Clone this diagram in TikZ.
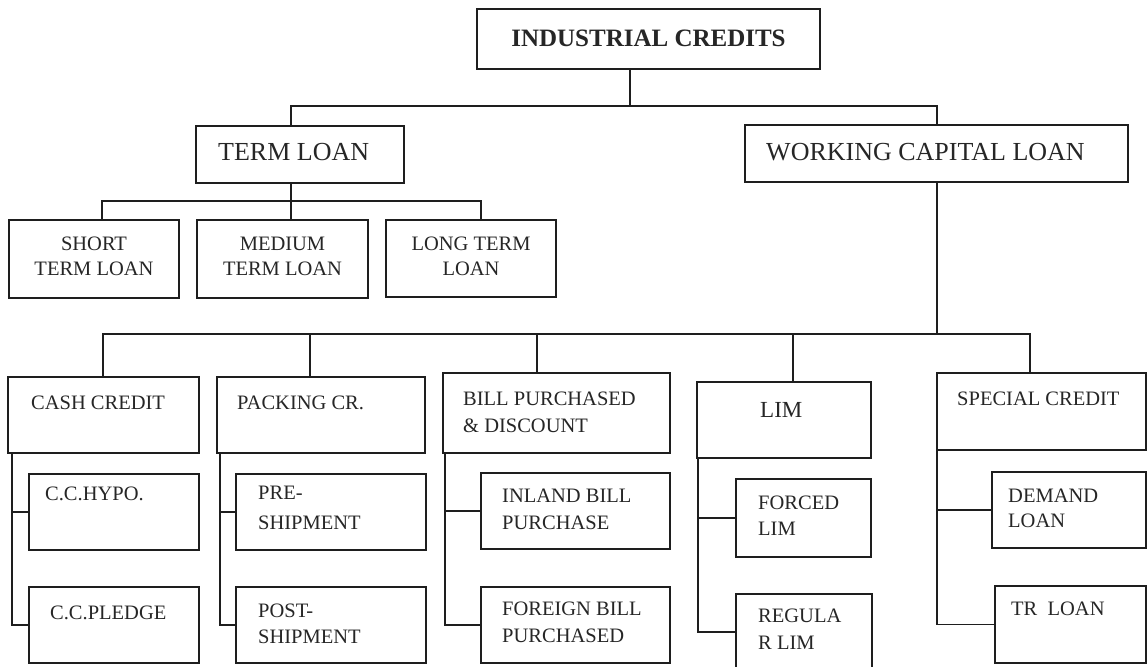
\documentclass[tikz,border=0pt]{standalone}
\usepackage{fontspec}
\setmainfont{Liberation Serif}
\usetikzlibrary{calc}
\definecolor{ln}{HTML}{1E1E1E}
\definecolor{tx}{HTML}{262626}
% multi-line label whose baseline is the first line
\newcommand\twoline[2][l]{\begin{tabular}[t]{@{}#1@{}}#2\end{tabular}}
\begin{document}
\begin{tikzpicture}[x=1pt,y=-1pt,
  box/.style={draw=ln,line width=1.8pt,inner sep=0pt,outer sep=0pt,anchor=north west},
  wire/.style={draw=ln,line width=1.8pt,line join=miter},
  big/.style={inner sep=0pt,text=tx,anchor=base west,font=\fontsize{26}{30}\selectfont},
  mid/.style={inner sep=0pt,text=tx,anchor=base,font=\fontsize{20.5}{25}\selectfont},
  low/.style={inner sep=0pt,text=tx,anchor=base west,font=\fontsize{20.5}{27}\selectfont}]
\useasboundingbox[fill=white] (0,0) rectangle (1147,666);

% ---- level 0 and 1 ----
\node[box,minimum width=343pt,minimum height=60pt] (ic) at (477,9) {};
\node[box,minimum width=208pt,minimum height=57pt] (tl) at (196,126) {};
\node[box,minimum width=383pt,minimum height=57pt] (wcl) at (745,125) {};
\node[inner sep=0pt,text=tx,anchor=base,font=\fontsize{25}{30}\selectfont\bfseries]
  (ic-t) at ($(ic.north)+(0,38)$) {INDUSTRIAL CREDITS};
\node[big] (tl-t) at ($(tl.north west)+(22,34)$) {TERM LOAN};
\node[big] (wcl-t) at ($(wcl.north west)+(21,35)$) {WORKING CAPITAL LOAN};

% ---- term loan branches ----
\node[box,minimum width=170pt,minimum height=78pt] (short) at (9,220) {};
\node[box,minimum width=171pt,minimum height=78pt] (medium) at (197,220) {};
\node[box,minimum width=170pt,minimum height=77pt] (long) at (386,220) {};
\node[mid] (short-t) at ($(short.north)+(0,30)$) {\twoline[c]{SHORT\\TERM LOAN}};
\node[mid] (medium-t) at ($(medium.north)+(0,30)$) {\twoline[c]{MEDIUM\\TERM LOAN}};
\node[mid] (long-t) at ($(long.north)+(0,30)$) {\twoline[c]{LONG TERM\\LOAN}};

% ---- working capital branches ----
\node[box,minimum width=191pt,minimum height=76pt] (cash) at (8,377) {};
\node[box,minimum width=208pt,minimum height=76pt] (packing) at (217,377) {};
\node[box,minimum width=227pt,minimum height=80pt] (bill) at (443,373) {};
\node[box,minimum width=174pt,minimum height=76pt] (lim) at (697,382) {};
\node[box,minimum width=209pt,minimum height=77pt] (special) at (937,373) {};

\node[low] (cash-t) at ($(cash.north west)+(23,32)$) {CASH CREDIT};
\node[low] (packing-t) at ($(packing.north west)+(20,32)$) {PACKING CR.};
\node[low] (bill-t) at ($(bill.north west)+(20,32)$) {\twoline{BILL PURCHASED\\\& DISCOUNT}};
\node[low,font=\fontsize{23}{27}\selectfont] (lim-t) at ($(lim.north west)+(63,35)$) {LIM};
\node[low] (special-t) at ($(special.north west)+(20,32)$) {SPECIAL CREDIT};

% ---- third level ----
\node[box,minimum width=170pt,minimum height=76pt] (hypo) at (29,474) {};
\node[box,minimum width=170pt,minimum height=76pt] (pledge) at (29,587) {};
\node[box,minimum width=190pt,minimum height=76pt] (pre) at (236,474) {};
\node[box,minimum width=190pt,minimum height=76pt] (post) at (236,587) {};
\node[box,minimum width=189pt,minimum height=76pt] (inland) at (481,473) {};
\node[box,minimum width=189pt,minimum height=76pt] (foreign) at (481,587) {};
\node[box,minimum width=135pt,minimum height=78pt] (forced) at (736,479) {};
\node[box,minimum width=136pt,minimum height=76pt] (regular) at (736,594) {};
\node[box,minimum width=154pt,minimum height=76pt] (demand) at (992,472) {};
\node[box,minimum width=151pt,minimum height=77pt] (trloan) at (995,586) {};

\node[low] (hypo-t) at ($(hypo.north west)+(16,26)$) {C.C.HYPO.};
\node[low] (pledge-t) at ($(pledge.north west)+(21,32)$) {C.C.PLEDGE};
\node[low] (pre-t) at ($(pre.north west)+(22,25)$) {\twoline{PRE-\\[3pt]SHIPMENT}};
\node[low] (post-t) at ($(post.north west)+(22,30)$) {\twoline{POST-\\[-1pt]SHIPMENT}};
\node[low] (inland-t) at ($(inland.north west)+(21,29)$) {\twoline{INLAND BILL\\PURCHASE}};
\node[low] (foreign-t) at ($(foreign.north west)+(21,28)$) {\twoline{FOREIGN BILL\\PURCHASED}};
\node[low] (forced-t) at ($(forced.north west)+(22,30)$) {\twoline{FORCED\\[-1pt]LIM}};
\node[low] (regular-t) at ($(regular.north west)+(22,28)$) {\twoline{REGULA\\R LIM}};
\node[low] (demand-t) at ($(demand.north west)+(16,30)$) {\twoline{DEMAND\\[-2pt]LOAN}};
\node[low] (trloan-t) at ($(trloan.north west)+(16,29)$) {TR\ \ LOAN};

% ---- connectors: top level ----
\coordinate (j0) at (630,106);
\coordinate (jTL) at (291,106);
\coordinate (jWC) at (937,106);
\draw[wire] (ic.south -| j0) -- (j0);
\draw[wire] (tl.north -| jTL) -- (jTL) -- (jWC) -- (wcl.north -| jWC);

% ---- connectors: term loan ----
\coordinate (b1) at (102,201);
\coordinate (b2) at (291,201);
\coordinate (b3) at (481,201);
\draw[wire] (short.north -| b1) -- (b1) -- (b3) -- (long.north -| b3);
\draw[wire] (tl.south -| b2) -- (medium.north -| b2);

% ---- connectors: working capital ----
\coordinate (w0) at (937,334);
\coordinate (w1) at (103,334);
\coordinate (w2) at (310,334);
\coordinate (w3) at (537,334);
\coordinate (w4) at (793,334);
\coordinate (w5) at (1030,334);
\draw[wire] (wcl.south -| w0) -- (w0);
\draw[wire] (cash.north -| w1) -- (w1) -- (w5) -- (special.north -| w5);
\draw[wire] (w2) -- (packing.north -| w2);
\draw[wire] (w3) -- (bill.north -| w3);
\draw[wire] (w4) -- (lim.north -| w4);

% ---- connectors: third level ----
\draw[wire] ($(cash.south west)+(4,0)$) coordinate (c1) |- (pledge.west);
\draw[wire] (c1 |- hypo.west) -- (hypo.west);
\draw[wire] ($(packing.south west)+(3,0)$) coordinate (c2) |- (post.west);
\draw[wire] (c2 |- pre.west) -- (pre.west);
\draw[wire] ($(bill.south west)+(2,0)$) coordinate (c3) |- (foreign.west);
\draw[wire] (c3 |- inland.west) -- (inland.west);
\draw[wire] ($(lim.south west)+(1,0)$) coordinate (c4) |- (regular.west);
\draw[wire] (c4 |- forced.west) -- (forced.west);
\draw[wire] (special.south west) coordinate (c5) |- (trloan.west);
\draw[wire] (c5 |- demand.west) -- (demand.west);
\end{tikzpicture}
\end{document}
